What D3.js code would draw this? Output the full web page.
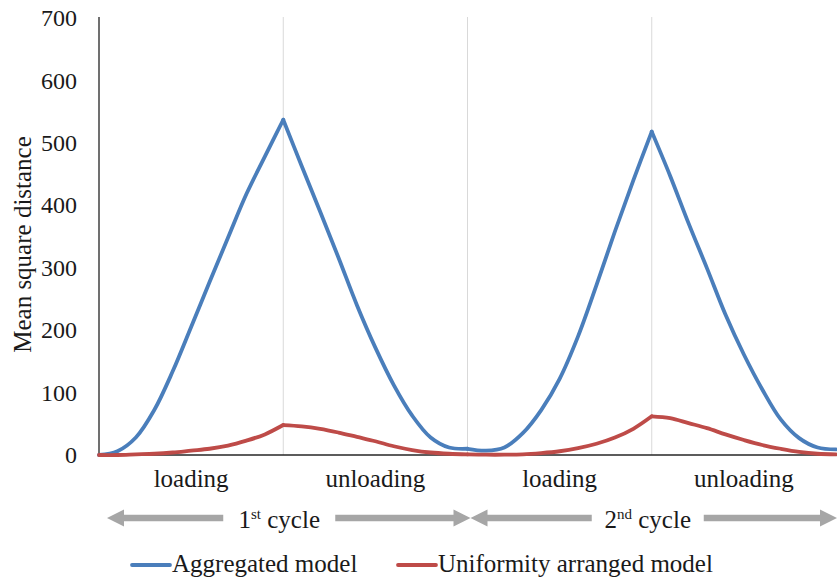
<!DOCTYPE html>
<html>
<head>
<meta charset="utf-8">
<script src="https://cdn.jsdelivr.net/npm/d3@7"></script>
<style>
  html, body { margin: 0; padding: 0; background: #fff; }
  svg { display: block; font-family: "Liberation Serif", "Times New Roman", serif; }
</style>
</head>
<body>
<svg id="chart" width="837" height="584" font-family="Liberation Serif, Times New Roman, serif"></svg>
<script>
// Mean square distance over two loading/unloading cycles (10 steps per phase)
const phases = ["loading", "unloading", "loading", "unloading"];
const cycleNumbers = ["1", "2"];
const cycleSuffixes = ["st", "nd"];
const yTicks = [0, 100, 200, 300, 400, 500, 600, 700];
const seriesNames = ["Aggregated model", "Uniformity arranged model"];
const seriesColors = ["#4a7ebb", "#be4b48"];

const aggregated = [
  0, 6, 28, 72, 134, 205, 277, 348, 418, 478, 537,
  463, 390, 316, 240, 172, 112, 63, 28, 12, 10,
  7, 12, 35, 72, 122, 190, 272, 358, 440, 518,
  447, 371, 299, 225, 161, 105, 57, 27, 12, 9
];
const uniform = [
  0, 0, 1, 2, 4, 7, 10, 15, 23, 33, 48,
  46, 42, 36, 29, 22, 14, 8, 4, 2, 1,
  0.5, 0.5, 1, 3, 6, 11, 18, 28, 42, 62,
  59, 51, 43, 33, 24, 16, 10, 5, 2, 1
];

const stepsPerPhase = 10;
const serif = "'Liberation Serif', 'Times New Roman', serif";
const labelSize = 25;
const svg = d3.select("#chart");
const plotLeft = 99, plotRight = 836, plotTop = 18, plotBottom = 455;

const x = d3.scaleLinear().domain([0, aggregated.length - 1]).range([plotLeft, plotRight]);
const y = d3.scaleLinear().domain([0, 700]).range([plotBottom, plotTop]);

// phase boundaries
svg.append("g").selectAll("line")
  .data([1, 2, 3])
  .join("line")
  .attr("x1", d => x(d * stepsPerPhase)).attr("x2", d => x(d * stepsPerPhase))
  .attr("y1", y(700) - 1).attr("y2", y(0))
  .attr("stroke", "#d9d9d9").attr("stroke-width", 1);

// y axis
const yAxis = svg.append("g")
  .attr("transform", `translate(${plotLeft},0)`)
  .call(d3.axisLeft(y).tickValues(yTicks).tickSize(0).tickPadding(22).tickFormat(d3.format("d")));
yAxis.attr("font-family", serif);
yAxis.select(".domain").attr("stroke", "#404040").attr("stroke-width", 1.5)
  .attr("d", `M0,${y(700) - 1}V${y(0)}`);
yAxis.selectAll("text").attr("font-size", 24).attr("fill", "#1a1a1a");

// x axis baseline
svg.append("line")
  .attr("x1", plotLeft).attr("x2", plotRight + 1)
  .attr("y1", y(0)).attr("y2", y(0))
  .attr("stroke", "#262626").attr("stroke-width", 1.5);

// y title
svg.append("text")
  .attr("transform", `translate(31,${(y(0) + y(700)) / 2 + 8}) rotate(-90)`)
  .attr("text-anchor", "middle")
  .attr("font-size", labelSize).attr("fill", "#1a1a1a")
  .text("Mean square distance");

// series, one smooth segment per phase so peaks stay sharp
const line = d3.line()
  .x(d => x(d.i)).y(d => y(d.v))
  .curve(d3.curveCatmullRom.alpha(0.5));

[aggregated, uniform].forEach((vals, s) => {
  const g = svg.append("g");
  phases.forEach((p, k) => {
    const pts = d3.range(k * stepsPerPhase, (k + 1) * stepsPerPhase + 1)
      .map(i => ({ i, v: vals[i] }));
    g.append("path")
      .attr("d", line(pts))
      .attr("fill", "none")
      .attr("stroke", seriesColors[s])
      .attr("stroke-width", 3.8)
      .attr("stroke-linecap", "round")
      .attr("stroke-linejoin", "round");
  });
});

// phase labels
svg.append("g").selectAll("text")
  .data(phases)
  .join("text")
  .attr("x", (d, k) => x((k + 0.5) * stepsPerPhase))
  .attr("y", 487)
  .attr("text-anchor", "middle")
  .attr("font-size", labelSize).attr("fill", "#1a1a1a")
  .text(d => d);

// cycle arrows
const arrowY = 518, headLen = 17, headHalf = 8.5, shaftHalf = 3.2;
const arrowColor = "#a6a6a6";
cycleNumbers.forEach((num, c) => {
  const x0 = x(c * 2 * stepsPerPhase) + (c === 0 ? 8 : 3);
  const x1 = x((c + 1) * 2 * stepsPerPhase) + (c === 0 ? 3 : 1);
  const cx = (x(c * 2 * stepsPerPhase) + x((c + 1) * 2 * stepsPerPhase)) / 2 + 1;
  const gapL = cx - 61, gapR = cx + 51;
  // left-pointing arrow
  svg.append("path")
    .attr("d", `M${x0},${arrowY} L${x0 + headLen},${arrowY - headHalf} L${x0 + headLen},${arrowY - shaftHalf}
      L${gapL},${arrowY - shaftHalf} L${gapL},${arrowY + shaftHalf} L${x0 + headLen},${arrowY + shaftHalf}
      L${x0 + headLen},${arrowY + headHalf} Z`)
    .attr("fill", arrowColor);
  // right-pointing arrow
  svg.append("path")
    .attr("d", `M${x1},${arrowY} L${x1 - headLen},${arrowY - headHalf} L${x1 - headLen},${arrowY - shaftHalf}
      L${gapR},${arrowY - shaftHalf} L${gapR},${arrowY + shaftHalf} L${x1 - headLen},${arrowY + shaftHalf}
      L${x1 - headLen},${arrowY + headHalf} Z`)
    .attr("fill", arrowColor);
  const t = svg.append("text")
    .attr("x", cx - 5).attr("y", 528)
    .attr("text-anchor", "middle")
    .attr("font-size", labelSize).attr("fill", "#1a1a1a");
  t.append("tspan").text(num);
  t.append("tspan").attr("font-size", 15).attr("dy", -9).text(cycleSuffixes[c]);
  t.append("tspan").attr("dy", 9).text(" cycle");
});

// legend
const legendItems = [
  { name: seriesNames[0], color: seriesColors[0], x: 132 },
  { name: seriesNames[1], color: seriesColors[1], x: 398 }
];
const lg = svg.append("g").selectAll("g").data(legendItems).join("g")
  .attr("transform", d => `translate(${d.x},565)`);
lg.append("line")
  .attr("x1", 0).attr("x2", 38).attr("y1", 0).attr("y2", 0)
  .attr("stroke", d => d.color).attr("stroke-width", 3.8).attr("stroke-linecap", "round");
lg.append("text")
  .attr("x", 40).attr("y", 7)
  .attr("font-size", labelSize).attr("fill", "#1a1a1a")
  .text(d => d.name);
</script>
</body>
</html>
